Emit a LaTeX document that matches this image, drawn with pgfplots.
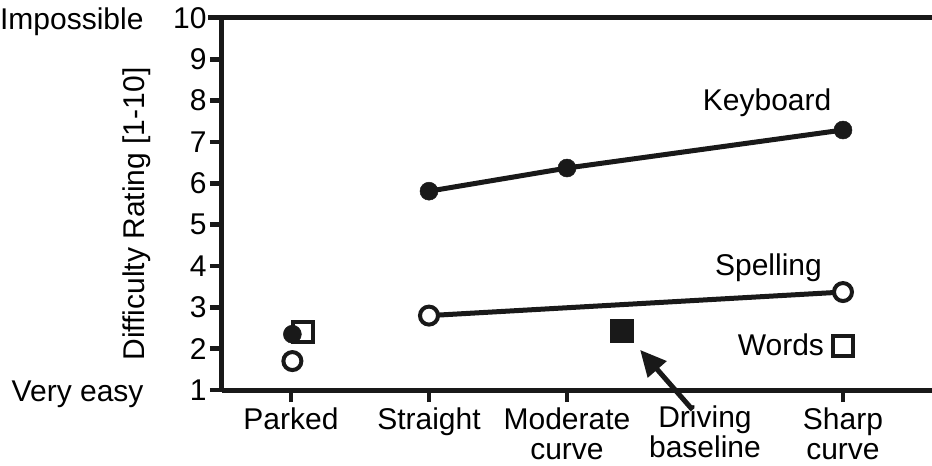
\documentclass[border=0pt]{standalone}
\usepackage{fontspec}
\setmainfont{Liberation Sans}
\usepackage{pgfplots}
\pgfplotsset{compat=1.18}
\usetikzlibrary{arrows.meta}
\begin{document}
\begin{tikzpicture}[font=\fontsize{30}{30}\selectfont]
\path[use as bounding box] (0,0) rectangle (932pt,466pt);
\begin{axis}[
  at={(222pt,76pt)}, anchor=south west,
  scale only axis, width=710pt, height=372pt,
  xmin=-0.5, xmax=4.645, ymin=1, ymax=10,
  axis x line*=bottom, axis y line*=left,
  axis line style={line width=5pt, black!90, -},
  every tick/.style={line width=4.5pt, black!90},
  ytick={1,...,10},
  tick label style={font=\fontsize{30}{30}\selectfont},
  ytick align=outside, major tick length=12pt,
  xtick={0,1,2,4},
  xticklabels={Parked,Straight,{Moderate\\curve},{Sharp\\curve}},
  xtick align=outside,
  x tick label style={align=center, yshift=-2pt},
  extra x ticks={3},
  extra x tick labels={{Driving\\baseline}},
  extra x tick style={major tick length=0pt, x tick label style={yshift=-10pt}},
  /pgf/number format/assume math mode=true,
  ylabel={Difficulty Rating [1-10]},
  ylabel style={font=\fontsize{30}{30}\selectfont, at={(rel axis cs:-0.12,0.473)}, anchor=center},
  clip=false,
]
\draw[line width=5pt, black!90] (rel axis cs:-0.02,1) -- (rel axis cs:1,1);
% Keyboard
\addplot[line width=5pt, black!90, mark=*, mark size=9pt, mark options={fill=black!90, draw=black!90, line width=0.5pt}]
  coordinates {(1,5.81) (2,6.37) (4,7.29)};
% Spelling
\addplot[line width=5pt, black!90, mark=*, mark size=9pt, mark options={fill=white, draw=black!90, line width=4pt}]
  coordinates {(1,2.80) (4,3.37)};
% Parked open square (words)
\addplot[only marks, mark=square*, mark size=10pt, mark options={fill=white, draw=black!90, line width=4pt}]
  coordinates {(0.087,2.40)};
% Parked filled circle (keyboard)
\addplot[only marks, mark=*, mark size=9pt, mark options={fill=black!90, draw=black!90, line width=0.5pt}]
  coordinates {(0.01,2.35)};
% Parked open circle (spelling)
\addplot[only marks, mark=*, mark size=9pt, mark options={fill=white, draw=black!90, line width=4pt}]
  coordinates {(0.01,1.70)};
% Driving baseline
\addplot[only marks, mark=square*, mark size=11.5pt, mark options={fill=black!90, draw=black!90, line width=0.5pt}]
  coordinates {(2.4,2.43)};
% Words sharp
\addplot[only marks, mark=square*, mark size=10pt, mark options={fill=white, draw=black!90, line width=4pt}]
  coordinates {(4,2.06)};
\node at (axis cs:3.45,7.94) {Keyboard};
\node at (axis cs:3.46,3.95) {Spelling};
\node at (axis cs:3.55,2.09) {Words};
\draw[line width=5pt, black!90, -{Triangle[length=26pt, width=24pt]}] (axis cs:2.91,0.52) -- (axis cs:2.53,1.97);
\node[anchor=base east, xshift=-75pt, yshift=-12pt] at (axis cs:-0.5,10) {Impossible};
\node[anchor=base east, xshift=-75pt, yshift=-11pt] at (axis cs:-0.5,1) {Very easy};
\end{axis}
\end{tikzpicture}
\end{document}
